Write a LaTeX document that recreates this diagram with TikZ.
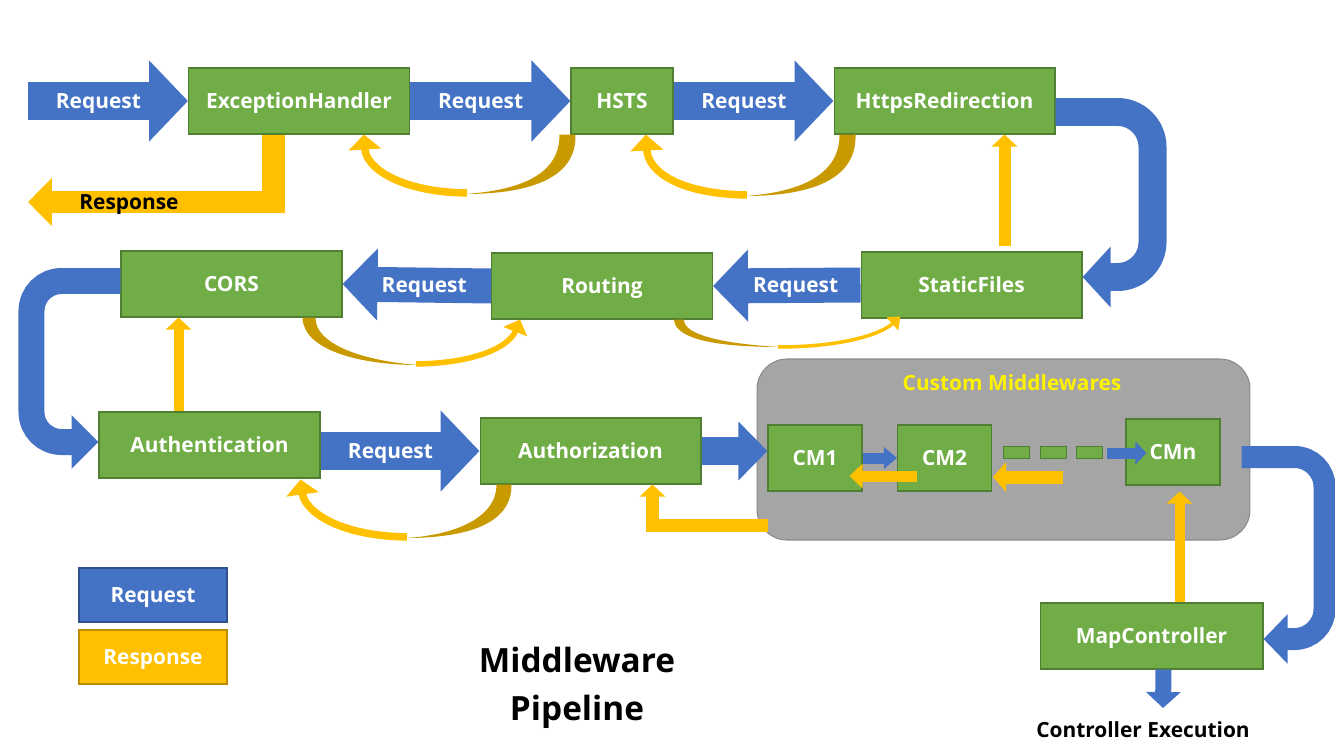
\documentclass[tikz,border=0pt]{standalone}
\usepackage{fontspec}
\setmainfont{Open Sans}
\usetikzlibrary{arrows.meta,calc}

\definecolor{reqblue}{HTML}{4472C4}
\definecolor{reqline}{HTML}{2F528F}
\definecolor{mwgreen}{HTML}{70AD47}
\definecolor{mwline}{HTML}{507E32}
\definecolor{respyellow}{HTML}{FFC000}
\definecolor{respline}{HTML}{BC8C00}
\definecolor{respback}{HTML}{C99A00}
\definecolor{cmgray}{HTML}{A5A5A5}
\definecolor{cmline}{HTML}{8A8A8A}

\begin{document}
\begin{tikzpicture}[
    x=0.02cm, y=-0.02cm,
    txt/.style={font=\fontsize{11.9pt}{14pt}\selectfont\bfseries,text height=8.4pt,text depth=0pt},
    mw/.style={txt,draw=mwline,fill=mwgreen,text=white,line width=0.6pt,inner sep=0pt,minimum width=4.42cm,minimum height=1.32cm},
    smallmw/.style={mw,minimum width=1.88cm},
    dashbox/.style={fill=mwgreen,draw=mwline,line width=0.4pt,inner sep=0pt,minimum width=0.52cm,minimum height=0.24cm},
    req/.style={reqblue,line width=0.76cm,-{Triangle[length=0.78cm,width=1.58cm]}},
    reqleft/.style={reqblue,line width=0.7cm,-{Triangle[length=0.7cm,width=1.4cm]}},
    lbl/.style={txt,text=white},
    resp/.style={respyellow,line width=0.24cm,-{Triangle[length=0.24cm,width=0.5cm]}},
    back/.style={fill=respback},
    legend/.style={txt,text=white,line width=0.6pt,inner sep=0pt,minimum width=2.96cm,minimum height=1.08cm}
]
\useasboundingbox (0,0) rectangle (1335,750);

% custom middleware area
\node[fill=cmgray,draw=cmline,line width=0.6pt,rounded corners=0.6cm,minimum width=9.86cm,minimum height=3.62cm,inner sep=0pt] (cmbox) at (1003.5,449.5) {};
\node[txt,text=yellow] (cmtitle) at (1012,383) {Custom Middlewares};

% middlewares
\node[mw] (exh) at (299,101) {ExceptionHandler};
\node[mw,minimum width=2.04cm] (hsts) at (622,101) {HSTS};
\node[mw] (https) at (944.5,101) {HttpsRedirection};
\node[mw] (static) at (971.5,285) {StaticFiles};
\node[mw] (routing) at (602,286) {Routing};
\node[mw] (cors) at (231.5,284) {CORS};
\node[mw] (authn) at (209.5,445) {Authentication};
\node[mw] (authz) at (590.5,451) {Authorization};
\node[smallmw] (cm1) at (815,458) {CM1};
\node[smallmw] (cm2) at (944.5,458) {CM2};
\node[smallmw] (cmn) at (1173,452) {CMn};
\node[mw,minimum width=4.46cm] (mapc) at (1151.5,636) {MapController};
\node[dashbox] (d1) at (1016,452) {};
\node[dashbox] (d2) at (1053.5,452) {};
\node[dashbox] (d3) at (1089.5,452) {};

% request path
\coordinate (start) at (28,101);
\draw[req] (start) -- (exh.west) node[lbl,pos=0.44] {Request};
\draw[req] (exh.east) -- (hsts.west) node[lbl,pos=0.44] {Request};
\draw[req] (hsts.east) -- (https.west) node[lbl,pos=0.44] {Request};
\draw[reqblue,line width=0.56cm,rounded corners=0.7cm,-{Triangle[length=0.56cm,width=1.18cm]}] ($(https.east)+(0,11)$) -| ($(static.east)+(70,-8)$) -- ($(static.east)+(0,-8)$);
\draw[reqleft] (static.west) -- (routing.east) node[lbl,pos=0.44] {Request};
\draw[reqleft] (routing.west) -- (cors.east) node[lbl,pos=0.45] {Request};
\draw[reqblue,line width=0.52cm,rounded corners=0.6cm,-{Triangle[length=0.54cm,width=1.04cm]}] ($(cors.west)+(0,-3)$) -| ($(authn.west)+(-67,-3)$) -- ($(authn.west)+(0,-3)$);
\draw[req] (authz.west -| authn.east) -- (authz.west) node[lbl,pos=0.44] {Request};
\draw[reqblue,line width=0.56cm,-{Triangle[length=0.58cm,width=1.14cm]}] (authz.east) -- (authz.east -| cm1.west);
\draw[reqblue,line width=0.22cm,-{Triangle[length=0.26cm,width=0.42cm]}] (cm1.east) -- (cm2.west);
\draw[reqblue,line width=0.22cm,-{Triangle[length=0.22cm,width=0.44cm]}] ($(d3.east)+(4,1)$) -- ($(cmn.west)+(21,1)$);
\draw[reqblue,line width=0.44cm,rounded corners=0.6cm,-{Triangle[length=0.48cm,width=0.96cm]}] ($(cmn.east)+(21,5)$) -| ($(mapc.east)+(61,3)$) -- ($(mapc.east)+(0,3)$);
\coordinate (exec) at (1163,708);
\draw[reqblue,line width=0.32cm,-{Triangle[length=0.32cm,width=0.68cm]}] ($(mapc.south)+(12,0)$) -- (exec);
\node[txt] (ctrlexec) at (1143,730) {Controller Execution};

% response path
\coordinate (respend) at (28,202);
\draw[respyellow,line width=0.46cm,-{Triangle[length=0.48cm,width=0.94cm]}] ($(exh.south)+(-26,0)$) |- (respend);
\node[txt] (resplbl) at (129,202) {Response};
\draw[resp] ($(static.north)+(33,-5)$) -- ($(static.north |- https.south)+(33,0)$);
\draw[resp,line width=0.2cm] ($(authn.north)+(-31,0)$) -- ($(authn.north |- cors.south)+(-31,0)$);
\draw[resp,line width=0.2cm] ($(mapc.north)+(28,0)$) -- ($(mapc.north |- cmn.south)+(28,6)$);
\coordinate (cmout) at (768,525);
\draw[resp,line width=0.26cm] (cmout) -| ($(authz.south)+(62,0)$);
\draw[resp,line width=0.22cm,-{Triangle[length=0.26cm,width=0.48cm]}] ($(cm2.west)+(20,18)$) -- ($(cm1.east)+(-13,18)$);
\draw[resp,line width=0.26cm,-{Triangle[length=0.26cm,width=0.58cm]}] ($(cm2.east)+(71,19)$) -- ($(cm2.east)+(1,19)$);

% curved returns
\fill[back] ($(hsts.south west)+(5,0)$) .. controls (577,178) and (530,194) .. (465,194) .. controls (525,190) and (560,172) .. ($(hsts.south west)+(-11,0)$) -- cycle;
\draw[respyellow,line width=0.15cm,-{Triangle[length=0.3cm,width=0.64cm]}] (467,193) .. controls (400,192) and (366,168) .. ($(exh.south east)+(-46,0)$);
\fill[back] ($(https.south west)+(22,0)$) .. controls (857,180) and (810,196) .. (745,196) .. controls (805,192) and (840,172) .. ($(https.south west)+(6,0)$) -- cycle;
\draw[respyellow,line width=0.15cm,-{Triangle[length=0.32cm,width=0.64cm]}] (747,195) .. controls (680,194) and (648,172) .. ($(hsts.south)+(24,0)$);
\fill[back] ($(cors.south east)+(-40,0)$) .. controls (303,350) and (360,365) .. (418,365) .. controls (365,361) and (315,345) .. ($(cors.south east)+(-27,0)$) -- cycle;
\draw[respyellow,line width=0.11cm,-{Triangle[length=0.26cm,width=0.5cm]}] (416,364) .. controls (480,363) and (510,345) .. ($(routing.south west)+(29,0)$);
\fill[back] ($(routing.south east)+(-39,0)$) .. controls (675,340) and (720,347) .. (780,347) .. controls (725,344) and (683,335) .. ($(routing.south east)+(-29,0)$) -- cycle;
\draw[respyellow,line width=0.07cm,-{Triangle[length=0.22cm,width=0.34cm]}] (778,347) .. controls (840,347) and (880,335) .. ($(static.south west)+(40,-2)$);
\fill[back] ($(authz.south west)+(32,0)$) .. controls (512,525) and (465,538) .. (405,538) .. controls (460,535) and (497,515) .. ($(authz.south west)+(17,0)$) -- cycle;
\draw[respyellow,line width=0.15cm,-{Triangle[length=0.3cm,width=0.64cm]}] (407,537) .. controls (340,536) and (305,512) .. ($(authn.south east)+(-20,1)$);

% legend and title
\node[legend,fill=reqblue,draw=reqline] (legreq) at (153,595) {Request};
\node[legend,fill=respyellow,draw=respline] (legresp) at (153,657) {Response};
\node[font=\fontsize{19pt}{27pt}\selectfont\bfseries,align=center] (title) at (577,688) {Middleware\\Pipeline};
\end{tikzpicture}
\end{document}
